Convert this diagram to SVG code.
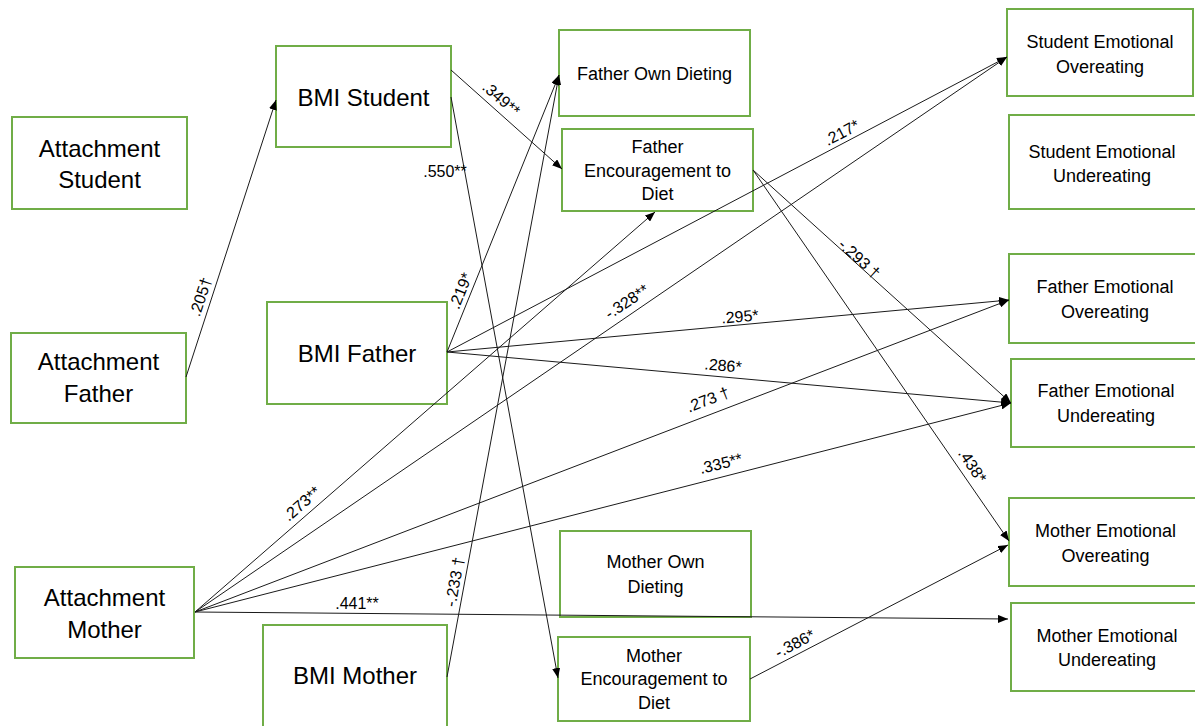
<svg xmlns="http://www.w3.org/2000/svg" width="1195" height="726" viewBox="0 0 1195 726">
<style>
.box{fill:#fff;stroke:#70AD47;stroke-width:2}
.big{font-family:"Liberation Sans",Arial,sans-serif;font-size:24px;fill:#000;text-anchor:middle}
.sm{font-family:"Liberation Sans",Arial,sans-serif;font-size:18px;fill:#000;text-anchor:middle}
.lbl{font-family:"Liberation Sans",Arial,sans-serif;font-size:16px;fill:#000;text-anchor:middle}
.edge{stroke:#1a1a1a;stroke-width:1;fill:none;marker-end:url(#arr)}
</style>
<defs>
<marker id="arr" markerUnits="userSpaceOnUse" markerWidth="11" markerHeight="8" refX="10" refY="4" orient="auto">
<path d="M0,0 L10,4 L0,8 z" fill="#000"/>
</marker>
</defs>
<rect width="1195" height="726" fill="#fff"/>
<g id="nodes">
<g id="attachment-student"><rect class="box" x="12" y="117" width="175" height="92"/><text class="big" x="99.5" y="157">Attachment</text><text class="big" x="99.5" y="188">Student</text></g>
<g id="attachment-father"><rect class="box" x="11" y="333" width="175" height="90"/><text class="big" x="98.5" y="370">Attachment</text><text class="big" x="98.5" y="402">Father</text></g>
<g id="attachment-mother"><rect class="box" x="15" y="567" width="179" height="91"/><text class="big" x="104.5" y="606">Attachment</text><text class="big" x="104.5" y="638">Mother</text></g>
<g id="bmi-student"><rect class="box" x="276" y="46" width="175" height="101"/><text class="big" x="363.5" y="106">BMI Student</text></g>
<g id="bmi-father"><rect class="box" x="267" y="302" width="180" height="102"/><text class="big" x="357" y="362">BMI Father</text></g>
<g id="bmi-mother"><rect class="box" x="263" y="625" width="184" height="110"/><text class="big" x="355" y="684">BMI Mother</text></g>
<g id="father-own-dieting"><rect class="box" x="559" y="30" width="191" height="86"/><text class="sm" x="654.5" y="80">Father Own Dieting</text></g>
<g id="father-encouragement"><rect class="box" x="562" y="129" width="191" height="82"/><text class="sm" x="657.5" y="153">Father</text><text class="sm" x="657.5" y="177">Encouragement to</text><text class="sm" x="657.5" y="200">Diet</text></g>
<g id="mother-own-dieting"><rect class="box" x="560" y="531" width="191" height="86"/><text class="sm" x="655.5" y="568">Mother Own</text><text class="sm" x="655.5" y="593">Dieting</text></g>
<g id="mother-encouragement"><rect class="box" x="558" y="637" width="192" height="84"/><text class="sm" x="654" y="662">Mother</text><text class="sm" x="654" y="685">Encouragement to</text><text class="sm" x="654" y="709">Diet</text></g>
<g id="student-emo-over"><rect class="box" x="1007" y="9" width="186" height="87"/><text class="sm" x="1100" y="48">Student Emotional</text><text class="sm" x="1100" y="73">Overeating</text></g>
<g id="student-emo-under"><rect class="box" x="1009" y="115" width="192" height="94"/><text class="sm" x="1102" y="158">Student Emotional</text><text class="sm" x="1102" y="182">Undereating</text></g>
<g id="father-emo-over"><rect class="box" x="1009" y="254" width="192" height="89"/><text class="sm" x="1105" y="293">Father Emotional</text><text class="sm" x="1105" y="318">Overeating</text></g>
<g id="father-emo-under"><rect class="box" x="1011" y="359" width="190" height="88"/><text class="sm" x="1106" y="397">Father Emotional</text><text class="sm" x="1106" y="422">Undereating</text></g>
<g id="mother-emo-over"><rect class="box" x="1009" y="498" width="192" height="88"/><text class="sm" x="1105.5" y="537">Mother Emotional</text><text class="sm" x="1105.5" y="562">Overeating</text></g>
<g id="mother-emo-under"><rect class="box" x="1011" y="603" width="190" height="88"/><text class="sm" x="1107" y="642">Mother Emotional</text><text class="sm" x="1107" y="666">Undereating</text></g>
</g>
<g id="connectors">
<line class="edge" x1="186" y1="377" x2="276" y2="100"/>
<line class="edge" x1="451" y1="70" x2="562" y2="169"/>
<line class="edge" x1="451" y1="97" x2="558" y2="678"/>
<line class="edge" x1="447" y1="352" x2="559" y2="75"/>
<line class="edge" x1="447" y1="352" x2="1007" y2="57"/>
<line class="edge" x1="447" y1="352" x2="1009" y2="300"/>
<line class="edge" x1="447" y1="352" x2="1011" y2="403"/>
<line class="edge" x1="195" y1="612" x2="655" y2="212"/>
<line class="edge" x1="195" y1="612" x2="1007" y2="57"/>
<line class="edge" x1="195" y1="612" x2="1009" y2="300"/>
<line class="edge" x1="195" y1="612" x2="1011" y2="403"/>
<line class="edge" x1="195" y1="612" x2="1008" y2="619"/>
<line class="edge" x1="447" y1="677" x2="559" y2="75"/>
<line class="edge" x1="753" y1="170" x2="1011" y2="403"/>
<line class="edge" x1="753" y1="170" x2="1009" y2="541"/>
<line class="edge" x1="750" y1="679" x2="1008" y2="545"/>
<g id="labels">
<text class="lbl" x="201" y="302" transform="rotate(-72 201 297)">.205†</text>
<text class="lbl" x="501" y="104" transform="rotate(41 501 99)">.349**</text>
<text class="lbl" x="445" y="177">.550**</text>
<text class="lbl" x="461" y="296" transform="rotate(-68 461 291)">.219*</text>
<text class="lbl" x="842" y="138" transform="rotate(-28 842 133)">.217*</text>
<text class="lbl" x="740" y="322" transform="rotate(-5 740 317)">.295*</text>
<text class="lbl" x="723" y="371" transform="rotate(5 723 366)">.286*</text>
<text class="lbl" x="302" y="509" transform="rotate(-41 302 504)">.273**</text>
<text class="lbl" x="627" y="307" transform="rotate(-34 627 302)">-.328**</text>
<text class="lbl" x="708" y="405" transform="rotate(-21 708 400)">.273 †</text>
<text class="lbl" x="721" y="469" transform="rotate(-14 721 464)">.335**</text>
<text class="lbl" x="357" y="609">.441**</text>
<text class="lbl" x="455" y="587" transform="rotate(-80 455 582)">-.233 †</text>
<text class="lbl" x="859" y="264" transform="rotate(42 859 259)">-.293 †</text>
<text class="lbl" x="972" y="471" transform="rotate(56 972 466)">.438*</text>
<text class="lbl" x="795" y="649" transform="rotate(-28 795 644)">-.386*</text>
</g>
</g>
</svg>
